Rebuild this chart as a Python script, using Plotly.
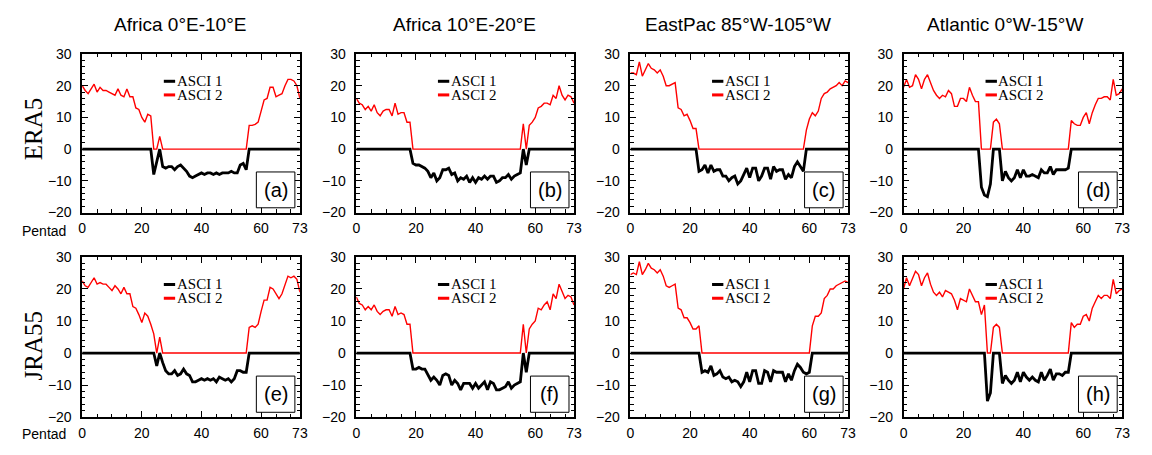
import plotly.graph_objects as go

# ---------------- data (pentads 0..73) ----------------
pentad = list(range(74))

titles = ["Africa 0°E-10°E", "Africa 10°E-20°E", "EastPac 85°W-105°W", "Atlantic 0°W-15°W"]
row_labels = ["ERA5", "JRA55"]
panel_tags = ["(a)", "(b)", "(c)", "(d)", "(e)", "(f)", "(g)", "(h)"]
series_names = ["ASCI 1", "ASCI 2"]
x_tickvals = [0, 20, 40, 60, 73]
y_tickvals = [-20, -10, 0, 10, 20, 30]

# ERA5
asci2_a = [20, 18.5, 17.5, 19, 20.5, 18, 19.5, 18.5, 18.5, 18, 17.5, 17, 19, 17, 16.5, 19, 16.5, 16.5,
           13, 12.5, 10, 8.5, 11, 10.5, 0, 0, 4] + [0] * 29 + \
          [7.5, 7.5, 7.8, 8.5, 12, 15.5, 16, 19.5, 19.5, 16.5, 17, 17.5, 20, 22, 22, 21.5, 20, 16]
asci1_a = [0] * 24 + [-8, -4, 0, -5.5, -6, -5.5, -5.5, -6.5, -5.5, -5, -6, -7, -8.5, -9, -8.5, -8,
                      -7.5, -8, -7.5, -7.5, -8, -7.5, -8, -7.5, -7.5, -7.5, -7, -7.5, -7.5, -5, -4.5, -6.5] + [0] * 18

asci2_b = [16, 14.5, 14, 12.5, 13.5, 12, 14, 11.5, 10.5, 12, 12.5, 12.5, 10.5, 14.5, 11, 11.5, 11.5,
           8.5, 8.5] + [0] * 37 + \
          [8, 0, 7.5, 8.5, 10, 13, 13.5, 14.5, 14.5, 14, 17, 16, 20, 17, 15.5, 17, 16.5, 14.5]
asci1_b = [0] * 19 + [-4.5, -5, -5, -5.5, -6, -7, -9, -7.5, -10, -9, -6.5, -6.5, -6, -8, -7.5, -10, -9,
                      -9.5, -8.5, -10.5, -9, -10.5, -9, -9.5, -8.5, -9.5, -8.5, -8.5, -10.5, -10, -9, -9,
                      -8, -9.5, -8.5, -8, -7.5] + [0, -5] + [0] * 16

asci2_c = [24, 24, 23.5, 27.5, 23, 25, 27, 25.5, 25, 24, 25, 23, 20, 20, 20.5, 21, 13, 12.5, 10.5, 11,
           9, 6.5, 6.5] + [0] * 36 + \
          [6, 9.5, 11.5, 10.5, 12, 16, 17.5, 18, 19, 19.5, 20, 21, 20, 21.5, 21]
asci1_c = [0] * 23 + [-7, -6.5, -5, -7.5, -5, -7, -6.5, -6.5, -8.5, -8.5, -10, -9, -8.5, -11, -10, -8,
                      -6, -9, -6, -6, -10, -8.5, -6, -6, -9.5, -5.5, -7, -6.5, -6.5, -9.5, -8, -9,
                      -5.5, -4, -5.5, -7] + [0] * 15

asci2_d = [19.5, 22, 19.5, 20, 23.5, 22, 19, 22, 23.5, 21, 18.5, 17, 16, 17, 16.5, 18.5, 17.5, 13.5,
           13.5, 16, 16, 15, 19.5, 17, 15, 15, 0, 0, 0, 0, 8.5, 9.5, 8] + [0] * 23 + \
          [9, 8, 7.5, 7.5, 10, 11.5, 8, 11.5, 14, 16, 16, 16.5, 16.5, 15.5, 22, 17, 17.5, 19]
asci1_d = [0] * 26 + [-12, -14.5, -15, -11, 0, 0, 0, -10, -7, -9, -10, -9, -6.5, -9, -6.5, -8.5, -8.5,
                      -8, -8.5, -9, -6.5, -7.5, -7.5, -5.5, -8, -6.5, -6.5, -6.5, -6.5, -6] + [0] * 18

# JRA55
asci2_e = [22.5, 21, 20.5, 22, 23.5, 21.5, 22, 21.5, 21.5, 20.5, 19.5, 21, 20, 18.5, 20.5, 18.5, 18.5,
           14.5, 14, 12, 9.5, 12.5, 11.5, 9, 6, 0, 5] + [0] * 29 + \
          [8, 8.5, 8, 9, 13, 16.5, 16.5, 20.5, 20, 18.5, 17, 18.5, 21, 24, 23.5, 24, 23, 19]
asci1_e = [0] * 25 + [-4, 0, -3, -5.5, -6.5, -6.5, -5.5, -7, -6.5, -5, -6.5, -7, -9, -9, -8.5, -8,
                      -8.5, -8, -8.5, -8, -9, -7.5, -8, -8.5, -8, -9, -8, -5.5, -5.5, -6, -6] + [0] * 18

asci2_f = [17.5, 15.5, 15, 13.5, 14.5, 13.5, 15, 13, 12, 13, 13.5, 13.5, 11.5, 14.5, 12, 12.5, 12,
           9, 9] + [0] * 37 + \
          [9, 0, 7.5, 9, 10, 14, 13.5, 15, 16, 13.5, 18.5, 17, 21.5, 19, 17, 18, 17.5, 15]
asci1_f = [0] * 19 + [-5, -5, -4.5, -5, -5, -7, -8.5, -7.5, -8.5, -10, -7, -6.5, -7, -10, -8.5, -9.5,
                      -11.5, -9.5, -9.5, -9.5, -11, -9.5, -11, -10, -9, -11.5, -9, -9.5, -11.5, -11.5,
                      -11, -10.5, -9, -11, -10, -9.5, -9] + [0, -6] + [0] * 16

asci2_g = [24.5, 25, 24.5, 28.5, 24.5, 26, 28, 26.5, 26, 25, 26, 24, 21, 20.5, 21, 21.5, 14, 13.5,
           11, 11, 9.5, 7.5, 7.5, 8.5] + [0] * 37 + \
          [8.5, 11.5, 11.5, 12.5, 17, 18, 20, 20, 21, 21.5, 22, 22.5, 22]
asci1_g = [0] * 24 + [-6, -5.5, -6, -4, -7, -6.5, -5.5, -7.5, -8, -7.5, -9, -8.5, -9, -10.5, -9, -6,
                      -9, -5.5, -5.5, -9.5, -9.5, -5.5, -6, -9, -5.5, -6, -6, -6, -9, -6.5, -8.5,
                      -5.5, -3.5, -4.5, -6, -6.5, -6] + [0] * 13

asci2_h = [20, 23.5, 21, 23, 25.5, 24.5, 21, 23.5, 25, 21.5, 19, 18, 19, 17.5, 19.5, 19, 18.5, 16.5,
           13.5, 17, 16.5, 16, 20, 18, 16, 16, 12, 15, 0, 0, 8, 9, 8] + [0] * 23 + \
          [9.5, 8, 9, 9, 11.5, 12, 10, 14, 16, 18, 17, 18, 18, 17, 23, 18.5, 19.5, 20]
asci1_h = [0] * 28 + [-15, -12.5, 0, 0, 0, -9.5, -7, -8.5, -9.5, -8.5, -6, -9, -6, -7.5, -8.5, -7.5,
                      -8.5, -9, -6, -8.5, -7, -5, -8.5, -6.5, -6.5, -7, -6, -6] + [0] * 18

asci1_all = [asci1_a, asci1_b, asci1_c, asci1_d, asci1_e, asci1_f, asci1_g, asci1_h]
asci2_all = [asci2_a, asci2_b, asci2_c, asci2_d, asci2_e, asci2_f, asci2_g, asci2_h]

# ---------------- layout ----------------
W, H = 1152, 455
col_px = [(79, 299), (356, 576), (633, 853), (909, 1130)]
row_px = [(47.7, 212), (258, 424)]
title_cx = [178, 465, 742, 1012]

SANS = "Liberation Sans, Arial, Helvetica, sans-serif"
SERIF = "Liberation Serif, Times New Roman, serif"

fig = go.Figure()
shapes, annotations = [], []

for i in range(8):
    r, c = divmod(i, 4)
    k = i + 1
    xa = "x" if k == 1 else f"x{k}"
    ya = "y" if k == 1 else f"y{k}"
    fig.add_trace(go.Scatter(x=pentad, y=asci1_all[i], mode="lines", name=series_names[0],
                             line=dict(color="black", width=2.8), xaxis=xa, yaxis=ya, showlegend=False))
    fig.add_trace(go.Scatter(x=pentad, y=asci2_all[i], mode="lines", name=series_names[1],
                             line=dict(color="#ff0000", width=1.4), xaxis=xa, yaxis=ya, showlegend=False))

    x0, x1 = col_px[c]
    t0, t1 = row_px[r]
    xdom = [x0 / W, x1 / W]
    ydom = [1 - t1 / H, 1 - t0 / H]
    common = dict(showgrid=False, zeroline=False, showline=True, linecolor="black", linewidth=1.5,
                  mirror="allticks", ticks="inside", ticklen=6, tickwidth=1.2, tickcolor="black",
                  tickfont=dict(family=SANS, size=14, color="black"))
    fig.layout["xaxis" if k == 1 else f"xaxis{k}"] = dict(
        domain=xdom, anchor=ya, range=[0, 73], tickmode="array", tickvals=x_tickvals,
        ticktext=[str(v) for v in x_tickvals], ticklabelstandoff=2,
        minor=dict(tickmode="linear", tick0=0, dtick=5, ticks="inside", ticklen=3.5,
                   tickwidth=1, tickcolor="black"),
        **common)
    fig.layout["yaxis" if k == 1 else f"yaxis{k}"] = dict(
        domain=ydom, anchor=xa, range=[-20, 30], tickmode="array", tickvals=y_tickvals,
        ticklabelstandoff=6,
        minor=dict(tickmode="linear", tick0=0, dtick=2, ticks="inside", ticklen=3.5,
                   tickwidth=1, tickcolor="black"),
        **common)

    xd = f"{xa} domain"
    yd = f"{ya} domain"
    # legend keys
    for j, (col, yy) in enumerate([("black", 0.828), ("#ff0000", 0.742)]):
        shapes.append(dict(type="line", xref=xd, yref=yd, x0=0.375, x1=0.427, y0=yy, y1=yy,
                           line=dict(color=col, width=3)))
        annotations.append(dict(xref=xd, yref=yd, x=0.425, y=yy, text=series_names[j],
                                showarrow=False, xanchor="left", yanchor="middle",
                                font=dict(family=SERIF, size=15, color="black")))
    # panel tag box
    shapes.append(dict(type="rect", xref=xd, yref=yd, x0=0.80, x1=0.977, y0=0.03, y1=0.256,
                       line=dict(color="black", width=1), fillcolor="white", layer="above"))
    annotations.append(dict(xref=xd, yref=yd, x=0.8885, y=0.143, text=panel_tags[i], showarrow=False,
                            xanchor="center", yanchor="middle",
                            font=dict(family=SANS, size=20, color="black")))

# column titles
for c in range(4):
    annotations.append(dict(xref="paper", yref="paper", x=title_cx[c] / W, y=1 - 17 / H,
                            text=titles[c], showarrow=False, xanchor="center", yanchor="middle",
                            font=dict(family=SANS, size=19, color="black")))
# row labels
for r, cy in enumerate([125, 350]):
    annotations.append(dict(xref="paper", yref="paper", x=30 / W, y=1 - cy / H, text=row_labels[r],
                            showarrow=False, textangle=-90, xanchor="center", yanchor="middle",
                            font=dict(family=SERIF, size=25, color="black")))
# "Pentad" labels
for cy in [231, 442]:
    annotations.append(dict(xref="paper", yref="paper", x=40 / W, y=1 - cy / H, text="Pentad",
                            showarrow=False, xanchor="center", yanchor="middle",
                            font=dict(family=SANS, size=14, color="black")))

fig.update_layout(width=W, height=H, margin=dict(l=0, r=0, t=0, b=0),
                  paper_bgcolor="white", plot_bgcolor="white",
                  shapes=shapes, annotations=annotations, showlegend=False)

fig.write_html("out.html")
